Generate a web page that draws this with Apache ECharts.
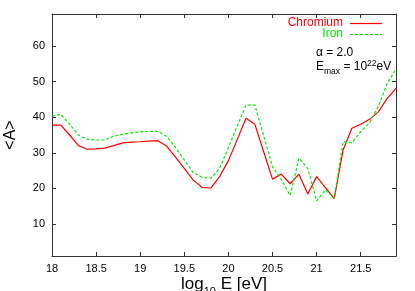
<!DOCTYPE html>
<html>
<head>
<meta charset="utf-8">
<script src="https://cdn.jsdelivr.net/npm/echarts@6/dist/echarts.min.js"></script>
<style>
  html, body { margin: 0; padding: 0; background: #fff; }
  #chart { width: 415px; height: 291px; }
</style>
</head>
<body>
<div id="chart"></div>
<script>
// log10 E values, one point every 0.1
const logE = [18.0, 18.1, 18.2, 18.3, 18.4, 18.5, 18.6, 18.7, 18.8, 18.9,
  19.0, 19.1, 19.2, 19.3, 19.4, 19.5, 19.6, 19.7, 19.8, 19.9,
  20.0, 20.1, 20.2, 20.3, 20.4, 20.5, 20.6, 20.7, 20.8, 20.9,
  21.0, 21.1, 21.2, 21.3, 21.4, 21.5, 21.6, 21.7, 21.8, 21.9]

const chromium = [37.8, 37.8, 35.0, 32.0, 31.0, 31.1, 31.3, 32.0, 32.8, 33.0,
  33.1, 33.3, 33.4, 31.9, 28.8, 25.6, 22.4, 20.3, 20.1, 23.3,
  27.8, 33.7, 39.7, 38.0, 30.3, 22.6, 24.0, 21.3, 24.0, 18.4,
  23.3, 20.2, 17.1, 30.8, 36.9, 38.0, 39.4, 41.5, 45.3, 48.1]

const iron = [40.3, 40.8, 38.0, 35.0, 33.8, 33.6, 33.6, 34.7, 35.2, 35.6,
  35.9, 36.0, 36.0, 34.6, 31.5, 28.0, 24.5, 23.1, 22.9, 25.6,
  31.5, 37.5, 43.4, 43.4, 34.8, 26.1, 22.5, 18.0, 28.5, 25.6,
  16.5, 19.6, 17.2, 33.1, 32.8, 35.9, 38.5, 43.0, 49.5, 53.5]

const xTicks = [18, 18.5, 19, 19.5, 20, 20.5, 21, 21.5]
const yTicks = [10, 20, 30, 40, 50, 60]

const FONT = 'Liberation Sans'
const frame = '#333'
const RED = '#ff0000'
const GREEN = '#00ee00'

function pairs(ys) {
  let out = []
  for (let i = 0; i < logE.length; i++) {
    out.push([logE[i], ys[i]])
  }
  return out
}

let chart = echarts.init(document.getElementById('chart'))

chart.setOption({
  animation: false,
  textStyle: { fontFamily: FONT },
  grid: { left: 52, right: 19, top: 14, bottom: 35, containLabel: false, outerBoundsMode: 'none' },
  xAxis: [
    {
      type: 'value',
      min: 18,
      max: 21.9,
      name: '{n|log}{s|10}{n| E [eV]}',
      nameLocation: 'middle',
      nameGap: 18,
      nameMoveOverlap: false,
      nameTextStyle: {
        rich: {
          n: { fontSize: 17, lineHeight: 20, color: '#000', fontFamily: FONT },
          s: { fontSize: 11, lineHeight: 11, color: '#000', fontFamily: FONT, verticalAlign: 'bottom', padding: [0, 0, -3, 0] }
        }
      },
      axisLine: { onZero: false, lineStyle: { color: frame } },
      axisTick: { inside: true, length: 4, customValues: xTicks, lineStyle: { color: frame } },
      axisLabel: { customValues: xTicks, color: '#000', fontSize: 11, margin: 7 },
      splitLine: { show: false }
    },
    {
      type: 'value',
      position: 'top',
      min: 18,
      max: 21.9,
      axisLine: { onZero: false, lineStyle: { color: frame } },
      axisTick: { inside: true, length: 4, customValues: xTicks, lineStyle: { color: frame } },
      axisLabel: { show: false },
      splitLine: { show: false }
    }
  ],
  yAxis: [
    {
      type: 'value',
      min: 1,
      max: 69,
      name: '<A>',
      nameLocation: 'middle',
      nameGap: 33,
      nameMoveOverlap: false,
      nameTextStyle: { fontSize: 16, color: '#000' },
      axisLine: { show: true, onZero: false, lineStyle: { color: frame } },
      axisTick: { show: true, inside: true, length: 4, customValues: yTicks, lineStyle: { color: frame } },
      axisLabel: { customValues: yTicks, color: '#000', fontSize: 11, margin: 7 },
      splitLine: { show: false }
    },
    {
      type: 'value',
      position: 'right',
      min: 1,
      max: 69,
      axisLine: { show: true, onZero: false, lineStyle: { color: frame } },
      axisTick: { show: true, inside: true, length: 4, customValues: yTicks, lineStyle: { color: frame } },
      axisLabel: { show: false },
      splitLine: { show: false }
    }
  ],
  graphic: [
    // key, drawn like gnuplot's: label then line sample
    {
      type: 'text', x: 343, y: 23,
      style: { text: 'Chromium', font: '12px ' + FONT, fill: RED, align: 'right', verticalAlign: 'middle' }
    },
    {
      type: 'line', shape: { x1: 350, y1: 23.5, x2: 382, y2: 23.5 },
      style: { stroke: RED, lineWidth: 1.2 }
    },
    {
      type: 'text', x: 343, y: 34,
      style: { text: 'Iron', font: '12px ' + FONT, fill: GREEN, align: 'right', verticalAlign: 'middle' }
    },
    {
      type: 'line', shape: { x1: 350, y1: 34.5, x2: 382, y2: 34.5 },
      style: { stroke: GREEN, lineWidth: 1.2, lineDash: [3, 2] }
    },
    {
      type: 'text', x: 316, y: 53,
      style: { text: 'α = 2.0', font: '12px ' + FONT, fill: '#000', verticalAlign: 'middle' }
    },
    {
      type: 'text', x: 316, y: 67,
      style: {
        text: '{e|E}{s|max}{e| = 10}{p|22}{e|eV}',
        verticalAlign: 'middle',
        rich: {
          e: { fontSize: 12, lineHeight: 15, fontFamily: FONT, fill: '#000' },
          s: { fontSize: 8.5, lineHeight: 9, fontFamily: FONT, fill: '#000', verticalAlign: 'bottom', padding: [0, 0, -2, 0] },
          p: { fontSize: 8.5, lineHeight: 9, fontFamily: FONT, fill: '#000', verticalAlign: 'top' }
        }
      }
    }
  ],
  series: [
    {
      name: 'Chromium',
      type: 'line',
      symbol: 'none',
      data: pairs(chromium),
      lineStyle: { color: RED, width: 1.2 },
      itemStyle: { color: RED }
    },
    {
      name: 'Iron',
      type: 'line',
      symbol: 'none',
      data: pairs(iron),
      lineStyle: { color: GREEN, width: 1.2, type: [3, 2] },
      itemStyle: { color: GREEN }
    }
  ]
})
</script>
</body>
</html>
